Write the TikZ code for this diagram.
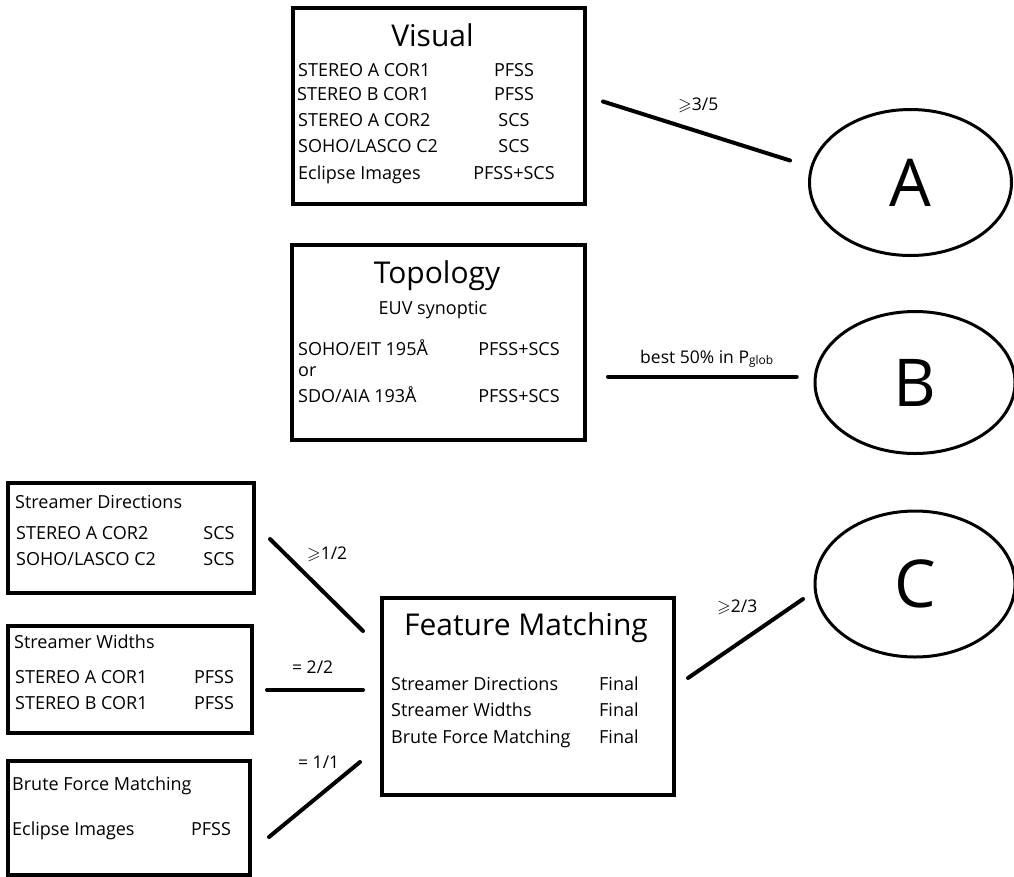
\documentclass[tikz,border=0pt]{standalone}
\usepackage{amssymb}
\usepackage{fontspec}
\setmainfont{Open Sans}
\usetikzlibrary{shapes.geometric}

\tikzset{
  box/.style={draw, rectangle, line width=4pt, inner sep=0pt},
  oval/.style={draw, ellipse, line width=3pt, inner sep=0pt,
    font=\fontsize{66}{66}\selectfont},
  link/.style={line width=4pt, line cap=round},
  heading/.style={anchor=base, inner sep=0pt, font=\fontsize{30}{32}\selectfont},
  txt/.style={anchor=base west, inner sep=0pt, font=\fontsize{18}{20}\selectfont},
  col/.style={anchor=base, inner sep=0pt, font=\fontsize{18}{20}\selectfont},
  lbl/.style={anchor=base west, inner sep=0pt, font=\fontsize{17.5}{19}\selectfont}
}

\begin{document}
\begin{tikzpicture}[x=1pt,y=-1pt]
\useasboundingbox (0,0) rectangle (1014,876);

% Visual box
\node[box, minimum width=292.5pt, minimum height=196.5pt] (visual) at (439,105.75) {};
\node[heading] (visual-title) at (432.5,46.7) {Visual};
\node[txt] (visual-l1) at (298,76.7) {STEREO A COR1};
\node[col] (visual-r1) at (514,76.7) {PFSS};
\node[txt] (visual-l2) at (297,100.5) {STEREO B COR1};
\node[col] (visual-r2) at (514,100.5) {PFSS};
\node[txt] (visual-l3) at (298,126.5) {STEREO A COR2};
\node[col] (visual-r3) at (514,126.5) {SCS};
\node[txt] (visual-l4) at (298,152.5) {SOHO/LASCO C2};
\node[col] (visual-r4) at (514,152.5) {SCS};
\node[txt] (visual-l5) at (298,179) {Eclipse Images};
\node[col] (visual-r5) at (514,179) {PFSS+SCS};

% Topology box
\node[box, minimum width=293pt, minimum height=195pt] (topo) at (438.5,342) {};
\node[heading] (topo-title) at (437,283.3) {Topology};
\node[col] (topo-sub) at (433,314) {EUV synoptic};
\node[txt] (topo-l1) at (298,355) {SOHO/EIT 195Å};
\node[col] (topo-r1) at (519,355) {PFSS+SCS};
\node[txt] (topo-or) at (298,376) {or};
\node[txt] (topo-l2) at (298,402) {SDO/AIA 193Å};
\node[col] (topo-r2) at (519,402) {PFSS+SCS};

% Streamer Directions box
\node[box, minimum width=246pt, minimum height=110pt] (sdir) at (131,538) {};
\node[txt] (sdir-title) at (15,508) {Streamer Directions};
\node[txt] (sdir-l1) at (16,539) {STEREO A COR2};
\node[col] (sdir-r1) at (219,539) {SCS};
\node[txt] (sdir-l2) at (16,565) {SOHO/LASCO C2};
\node[col] (sdir-r2) at (219,565) {SCS};

% Streamer Widths box
\node[box, minimum width=244.5pt, minimum height=107pt] (swid) at (130,679.5) {};
\node[txt] (swid-title) at (14,648.7) {Streamer Widths};
\node[txt] (swid-l1) at (15,683) {STEREO A COR1};
\node[col] (swid-r1) at (214,683) {PFSS};
\node[txt] (swid-l2) at (15,709) {STEREO B COR1};
\node[col] (swid-r2) at (214,709) {PFSS};

% Brute Force Matching box
\node[box, minimum width=242.5pt, minimum height=114pt] (bforce) at (129,817.5) {};
\node[txt] (bforce-title) at (12,790) {Brute Force Matching};
\node[txt] (bforce-l1) at (12,835) {Eclipse Images};
\node[col] (bforce-r1) at (211,835) {PFSS};

% Feature Matching box
\node[box, minimum width=292pt, minimum height=197pt] (fmatch) at (527.5,696) {};
\node[heading] (fmatch-title) at (526,635) {Feature Matching};
\node[txt] (fmatch-l1) at (391,690) {Streamer Directions};
\node[txt] (fmatch-r1) at (599,690) {Final};
\node[txt] (fmatch-l2) at (391,716) {Streamer Widths};
\node[txt] (fmatch-r2) at (599,716) {Final};
\node[txt] (fmatch-l3) at (391,743) {Brute Force Matching};
\node[txt] (fmatch-r3) at (599,743) {Final};

% Classes
\node[oval, minimum width=202pt, minimum height=146pt] (classA) at (910.5,182.5) {A};
\node[oval, minimum width=200pt, minimum height=142pt] (classB) at (915,382.5) {B};
\node[oval, minimum width=200pt, minimum height=146pt] (classC) at (915,584) {C};

% Connector ends
\coordinate (vA-s) at (603,101.5);
\coordinate (vA-e) at (790,160.5);
\coordinate (tB-s) at (608,376.7);
\coordinate (tB-e) at (796.7,376.7);
\coordinate (sd-s) at (270,539);
\coordinate (sd-e) at (363,631);
\coordinate (sw-s) at (267,690);
\coordinate (sw-e) at (363,690);
\coordinate (bf-s) at (269,837);
\coordinate (bf-e) at (360,762);
\coordinate (fC-s) at (688,678);
\coordinate (fC-e) at (803,599);

% Connectors
\draw[link] (vA-s) -- (vA-e);
\draw[link] (tB-s) -- (tB-e);
\draw[link] (sd-s) -- (sd-e);
\draw[link] (sw-s) -- (sw-e);
\draw[link] (bf-s) -- (bf-e);
\draw[link] (fC-s) -- (fC-e);

% Connector labels
\node[lbl] (lbl-vA) at (678,110) {$\geqslant$3/5};
\node[lbl] (lbl-tB) at (640,363) {best 50\% in P\raisebox{-1.5pt}{\fontsize{12}{12}\selectfont glob}};
\node[lbl] (lbl-sd) at (307,559) {$\geqslant$1/2};
\node[lbl] (lbl-sw) at (292,673) {= 2/2};
\node[lbl] (lbl-bf) at (298,768) {= 1/1};
\node[lbl] (lbl-fC) at (717,612) {$\geqslant$2/3};
\end{tikzpicture}
\end{document}
